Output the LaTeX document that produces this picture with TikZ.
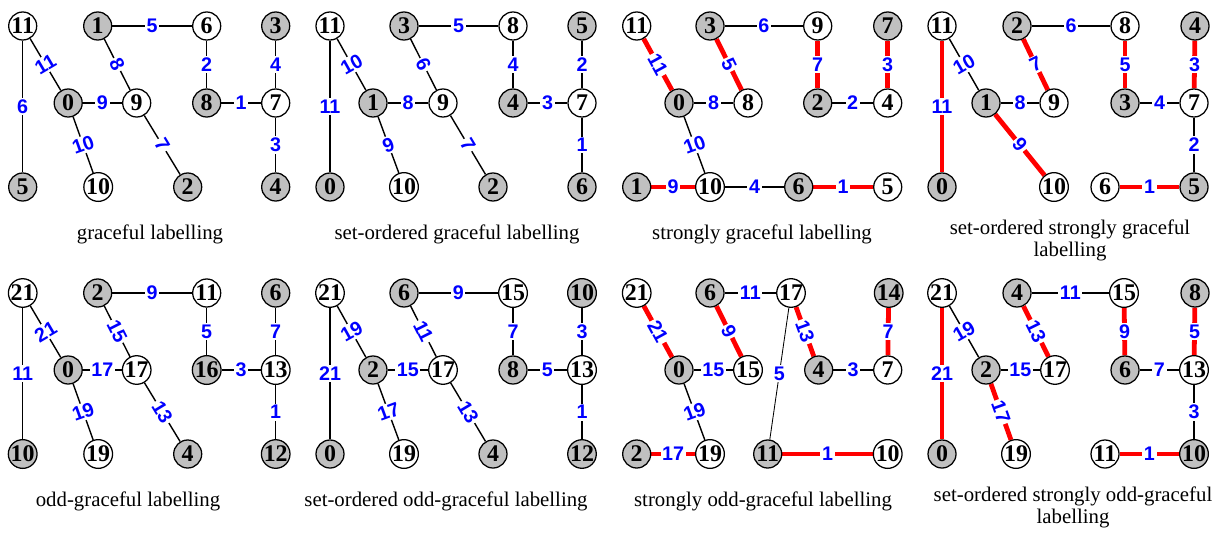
\documentclass[tikz,border=0pt]{standalone}
\usepackage{fontspec}
\setmainfont{Liberation Serif}
\setsansfont{Liberation Sans}

\pgfdeclarelayer{bg}
\pgfsetlayers{bg,main}

\definecolor{vgray}{RGB}{192,192,192}

\tikzset{
  vx/.style={circle, draw, line width=0.9pt, minimum size=0.7cm, inner sep=0pt,
    font=\fontsize{17}{18}\selectfont\bfseries},
  vw/.style={vx, fill=white},
  vg/.style={vx, fill=vgray},
  ed/.style={line width=1pt},
  thin ed/.style={line width=0.6pt},
  hot/.style={draw=red, line width=3.4pt},
  lab/.style={fill=white, inner sep=1.2pt, text=blue,
    font=\sffamily\bfseries\fontsize{14}{15}\selectfont},
  across/.style={sloped, rotate=90},
  captext/.style={font=\fontsize{14.8}{15.9}\selectfont, align=center, anchor=base}
}

\begin{document}
\begin{tikzpicture}[x=0.025cm, y=-0.025cm]
  \useasboundingbox (0,0) rectangle (1220,534);

  % graceful labelling
  \begin{scope}[shift={(22.7,26)}]
    \node[vw] (ga11) at (0,0) {11};
    \node[vg] (ga1) at (75,0) {1};
    \node[vw] (ga6) at (184,0) {6};
    \node[vg] (ga3) at (253,0) {3};
    \node[vg] (ga0) at (45.5,77) {0};
    \node[vw] (ga9) at (114,77) {9};
    \node[vg] (ga8) at (184,77) {8};
    \node[vw] (ga7) at (253,77) {7};
    \node[vg] (ga5) at (0,161) {5};
    \node[vw] (ga10) at (75.5,161) {10};
    \node[vg] (ga2) at (165,161) {2};
    \node[vg] (ga4) at (253,161) {4};
    \begin{pgfonlayer}{bg}
      \draw[ed] (ga11) -- node[lab] {6} (ga5);
      \draw[ed] (ga11) -- node[lab, across] {11} (ga0);
      \draw[ed] (ga0) -- node[lab] {9} (ga9);
      \draw[ed] (ga0) -- node[lab, across] {10} (ga10);
      \draw[ed] (ga1) -- node[lab] {5} (ga6);
      \draw[ed] (ga1) -- node[lab, sloped] {8} (ga9);
      \draw[ed] (ga9) -- node[lab, sloped] {7} (ga2);
      \draw[ed] (ga6) -- node[lab] {2} (ga8);
      \draw[ed] (ga8) -- node[lab] {1} (ga7);
      \draw[ed] (ga3) -- node[lab] {4} (ga7);
      \draw[ed] (ga7) -- node[lab] {3} (ga4);
    \end{pgfonlayer}
  \end{scope}

  % set-ordered graceful labelling
  \begin{scope}[shift={(330,26)}]
    \node[vw] (gb11) at (0,0) {11};
    \node[vg] (gb3) at (74,0) {3};
    \node[vw] (gb8) at (183,0) {8};
    \node[vg] (gb5) at (252,0) {5};
    \node[vg] (gb1) at (43,77) {1};
    \node[vw] (gb9) at (113,77) {9};
    \node[vg] (gb4) at (183,77) {4};
    \node[vw] (gb7) at (252,77) {7};
    \node[vg] (gb0) at (0,161) {0};
    \node[vw] (gb10) at (74,161) {10};
    \node[vg] (gb2) at (163,161) {2};
    \node[vg] (gb6) at (252,161) {6};
    \begin{pgfonlayer}{bg}
      \draw[ed] (gb11) -- node[lab] {11} (gb0);
      \draw[ed] (gb11) -- node[lab, across] {10} (gb1);
      \draw[ed] (gb1) -- node[lab] {8} (gb9);
      \draw[ed] (gb1) -- node[lab, across] {9} (gb10);
      \draw[ed] (gb3) -- node[lab] {5} (gb8);
      \draw[ed] (gb3) -- node[lab, sloped] {6} (gb9);
      \draw[ed] (gb9) -- node[lab, sloped] {7} (gb2);
      \draw[ed] (gb8) -- node[lab] {4} (gb4);
      \draw[ed] (gb4) -- node[lab] {3} (gb7);
      \draw[ed] (gb5) -- node[lab] {2} (gb7);
      \draw[ed] (gb7) -- node[lab] {1} (gb6);
    \end{pgfonlayer}
  \end{scope}

  % strongly graceful labelling
  \begin{scope}[shift={(636.7,26)}]
    \node[vw] (gc11) at (0,0) {11};
    \node[vg] (gc3) at (73.3,0) {3};
    \node[vw] (gc9) at (181,0) {9};
    \node[vg] (gc7) at (251,0) {7};
    \node[vg] (gc0) at (42.3,77) {0};
    \node[vw] (gc8) at (111.3,77) {8};
    \node[vg] (gc2) at (181,77) {2};
    \node[vw] (gc4) at (251,77) {4};
    \node[vg] (gc1) at (0,161) {1};
    \node[vw] (gc10) at (73.3,161) {10};
    \node[vg] (gc6) at (162,161) {6};
    \node[vw] (gc5) at (251,161) {5};
    \begin{pgfonlayer}{bg}
      \draw[hot] (gc11) -- node[lab, sloped] {11} (gc0);
      \draw[hot] (gc3) -- node[lab, sloped] {5} (gc8);
      \draw[ed] (gc3) -- node[lab] {6} (gc9);
      \draw[ed] (gc0) -- node[lab] {8} (gc8);
      \draw[ed] (gc0) -- node[lab, across] {10} (gc10);
      \draw[hot] (gc9) -- node[lab] {7} (gc2);
      \draw[hot] (gc7) -- node[lab] {3} (gc4);
      \draw[ed] (gc2) -- node[lab] {2} (gc4);
      \draw[hot] (gc1) -- node[lab] {9} (gc10);
      \draw[ed] (gc10) -- node[lab] {4} (gc6);
      \draw[hot] (gc6) -- node[lab] {1} (gc5);
    \end{pgfonlayer}
  \end{scope}

  % set-ordered strongly graceful labelling
  \begin{scope}[shift={(942,26)}]
    \node[vw] (gd11) at (0,0) {11};
    \node[vg] (gd2) at (75,0) {2};
    \node[vw] (gd8) at (183,0) {8};
    \node[vg] (gd4) at (253,0) {4};
    \node[vg] (gd1) at (44,77) {1};
    \node[vw] (gd9) at (112,77) {9};
    \node[vg] (gd3) at (183,77) {3};
    \node[vw] (gd7) at (252,77) {7};
    \node[vg] (gd0) at (0,161) {0};
    \node[vw] (gd10) at (112,161) {10};
    \node[vw] (gd6) at (163,161) {6};
    \node[vg] (gd5) at (252,161) {5};
    \begin{pgfonlayer}{bg}
      \draw[hot] (gd11) -- node[lab] {11} (gd0);
      \draw[ed] (gd11) -- node[lab, across] {10} (gd1);
      \draw[ed] (gd1) -- node[lab] {8} (gd9);
      \draw[hot] (gd1) -- node[lab, sloped] {9} (gd10);
      \draw[hot] (gd2) -- node[lab, across] {7} (gd9);
      \draw[ed] (gd2) -- node[lab] {6} (gd8);
      \draw[hot] (gd8) -- node[lab] {5} (gd3);
      \draw[ed] (gd3) -- node[lab] {4} (gd7);
      \draw[hot] (gd4) -- node[lab] {3} (gd7);
      \draw[ed] (gd7) -- node[lab] {2} (gd5);
      \draw[hot] (gd6) -- node[lab] {1} (gd5);
    \end{pgfonlayer}
  \end{scope}

  % odd-graceful labelling
  \begin{scope}[shift={(22.7,293)}]
    \node[vw] (oa21) at (0,0) {21};
    \node[vg] (oa2) at (75,0) {2};
    \node[vw] (oa11) at (184,0) {11};
    \node[vg] (oa6) at (253,0) {6};
    \node[vg] (oa0) at (45.5,77) {0};
    \node[vw] (oa17) at (114,77) {17};
    \node[vg] (oa16) at (184,77) {16};
    \node[vw] (oa13) at (253,77) {13};
    \node[vg] (oa10) at (0,161) {10};
    \node[vw] (oa19) at (75.5,161) {19};
    \node[vg] (oa4) at (165,161) {4};
    \node[vg] (oa12) at (253,161) {12};
    \begin{pgfonlayer}{bg}
      \draw[ed] (oa21) -- node[lab] {11} (oa10);
      \draw[ed] (oa21) -- node[lab, across] {21} (oa0);
      \draw[ed] (oa0) -- node[lab] {17} (oa17);
      \draw[ed] (oa0) -- node[lab, across] {19} (oa19);
      \draw[ed] (oa2) -- node[lab] {9} (oa11);
      \draw[ed] (oa2) -- node[lab, sloped] {15} (oa17);
      \draw[ed] (oa17) -- node[lab, sloped] {13} (oa4);
      \draw[ed] (oa11) -- node[lab] {5} (oa16);
      \draw[ed] (oa16) -- node[lab] {3} (oa13);
      \draw[ed] (oa6) -- node[lab] {7} (oa13);
      \draw[ed] (oa13) -- node[lab] {1} (oa12);
    \end{pgfonlayer}
  \end{scope}

  % set-ordered odd-graceful labelling
  \begin{scope}[shift={(330,293)}]
    \node[vw] (ob21) at (0,0) {21};
    \node[vg] (ob6) at (74,0) {6};
    \node[vw] (ob15) at (183,0) {15};
    \node[vg] (ob10) at (252,0) {10};
    \node[vg] (ob2) at (43,77) {2};
    \node[vw] (ob17) at (113,77) {17};
    \node[vg] (ob8) at (183,77) {8};
    \node[vw] (ob13) at (252,77) {13};
    \node[vg] (ob0) at (0,161) {0};
    \node[vw] (ob19) at (74,161) {19};
    \node[vg] (ob4) at (163,161) {4};
    \node[vg] (ob12) at (252,161) {12};
    \begin{pgfonlayer}{bg}
      \draw[ed] (ob21) -- node[lab] {21} (ob0);
      \draw[ed] (ob21) -- node[lab, across] {19} (ob2);
      \draw[ed] (ob2) -- node[lab] {15} (ob17);
      \draw[ed] (ob2) -- node[lab, across] {17} (ob19);
      \draw[ed] (ob6) -- node[lab] {9} (ob15);
      \draw[ed] (ob6) -- node[lab, sloped] {11} (ob17);
      \draw[ed] (ob17) -- node[lab, sloped] {13} (ob4);
      \draw[ed] (ob15) -- node[lab] {7} (ob8);
      \draw[ed] (ob8) -- node[lab] {5} (ob13);
      \draw[ed] (ob10) -- node[lab] {3} (ob13);
      \draw[ed] (ob13) -- node[lab] {1} (ob12);
    \end{pgfonlayer}
  \end{scope}

  % strongly odd-graceful labelling
  \begin{scope}[shift={(636.7,293)}]
    \node[vw] (oc21) at (0,0) {21};
    \node[vg] (oc6) at (73.3,0) {6};
    \node[vw] (oc17) at (154.3,0) {17};
    \node[vg] (oc14) at (252,0) {14};
    \node[vg] (oc0) at (42.3,77) {0};
    \node[vw] (oc15) at (111.3,77) {15};
    \node[vg] (oc4) at (182,77) {4};
    \node[vw] (oc7) at (251,77) {7};
    \node[vg] (oc2) at (0,161) {2};
    \node[vw] (oc19) at (73.3,161) {19};
    \node[vg] (oc11) at (131,161) {11};
    \node[vw] (oc10) at (251,161) {10};
    \begin{pgfonlayer}{bg}
      \draw[hot] (oc21) -- node[lab, sloped] {21} (oc0);
      \draw[hot] (oc6) -- node[lab, sloped] {9} (oc15);
      \draw[ed] (oc6) -- node[lab] {11} (oc17);
      \draw[ed] (oc0) -- node[lab] {15} (oc15);
      \draw[ed] (oc0) -- node[lab, across] {19} (oc19);
      \draw[hot] (oc2) -- node[lab] {17} (oc19);
      \draw[hot] (oc17) -- node[lab, sloped] {13} (oc4);
      \draw[thin ed] (oc17) -- node[lab] {5} (oc11);
      \draw[ed] (oc4) -- node[lab] {3} (oc7);
      \draw[hot] (oc14) -- node[lab] {7} (oc7);
      \draw[hot] (oc11) -- node[lab] {1} (oc10);
    \end{pgfonlayer}
  \end{scope}

  % set-ordered strongly odd-graceful labelling
  \begin{scope}[shift={(942,293)}]
    \node[vw] (od21) at (0,0) {21};
    \node[vg] (od4) at (75,0) {4};
    \node[vw] (od15) at (182,0) {15};
    \node[vg] (od8) at (253,0) {8};
    \node[vg] (od2) at (44,77) {2};
    \node[vw] (od17) at (113,77) {17};
    \node[vg] (od6) at (183,77) {6};
    \node[vw] (od13) at (252,77) {13};
    \node[vg] (od0) at (0,161) {0};
    \node[vw] (od19) at (74,161) {19};
    \node[vw] (od11) at (163,161) {11};
    \node[vg] (od10) at (252,161) {10};
    \begin{pgfonlayer}{bg}
      \draw[hot] (od21) -- node[lab] {21} (od0);
      \draw[ed] (od21) -- node[lab, across] {19} (od2);
      \draw[ed] (od2) -- node[lab] {15} (od17);
      \draw[hot] (od2) -- node[lab, sloped] {17} (od19);
      \draw[hot] (od4) -- node[lab, sloped] {13} (od17);
      \draw[ed] (od4) -- node[lab] {11} (od15);
      \draw[hot] (od15) -- node[lab] {9} (od6);
      \draw[ed] (od6) -- node[lab] {7} (od13);
      \draw[hot] (od8) -- node[lab] {5} (od13);
      \draw[ed] (od13) -- node[lab] {3} (od10);
      \draw[hot] (od11) -- node[lab] {1} (od10);
    \end{pgfonlayer}
  \end{scope}

  % captions
  \node[captext] (capga) at (150,239) {graceful labelling};
  \node[captext] (capgb) at (457,239) {set-ordered graceful labelling};
  \node[captext] (capgc) at (762,239) {strongly graceful labelling};
  \node[captext] (capgd) at (1070,256.7) {set-ordered strongly graceful\\labelling};
  \node[captext] (capoa) at (128,506) {odd-graceful labelling};
  \node[captext] (capob) at (446,506) {set-ordered odd-graceful labelling};
  \node[captext] (capoc) at (763,506) {strongly odd-graceful labelling};
  \node[captext] (capod) at (1073,523.7) {set-ordered strongly odd-graceful\\labelling};

\end{tikzpicture}
\end{document}
